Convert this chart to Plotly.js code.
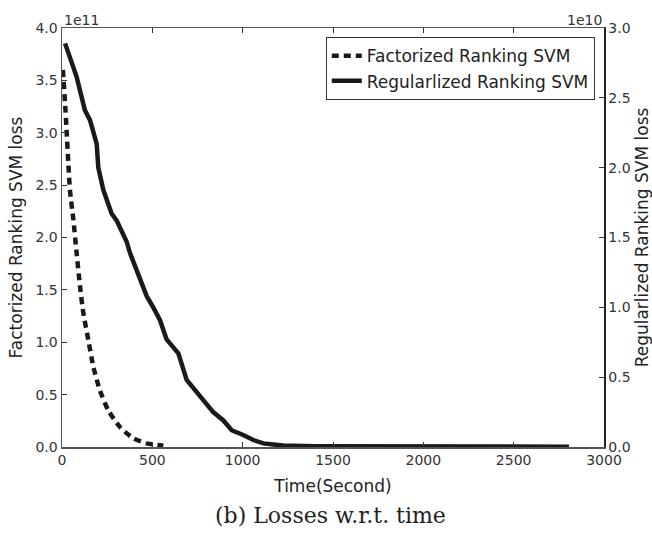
<!DOCTYPE html>
<html>
<head>
<meta charset="utf-8">
<script src="https://cdn.plot.ly/plotly-3.0.1.min.js"></script>
<style>html,body{margin:0;padding:0;background:#fff;}#chart{width:652px;height:533px;}</style>
</head>
<body>
<div id="chart"></div>
<script>
// Factorized Ranking SVM loss (units of 1e11), left axis
const timeFac = [5, 17, 26, 35, 44, 63, 81, 100, 118, 146, 173, 210, 256, 321, 395, 469, 561];
const lossFac = [3.60, 3.28, 3.00, 2.71, 2.45, 2.17, 1.85, 1.53, 1.28, 1.02, 0.77, 0.54, 0.35, 0.19, 0.083, 0.035, 0.012];
// Regularlized Ranking SVM loss (units of 1e10), right axis
const timeReg = [17, 45, 81, 127, 155, 192, 201, 229, 275, 303, 358, 376, 413, 469, 505, 542, 579, 644, 690, 727, 782, 837, 893, 939, 1003, 1059, 1114, 1225, 1400, 1800, 2200, 2806];
const lossReg = [2.89, 2.78, 2.65, 2.41, 2.34, 2.17, 2.00, 1.84, 1.67, 1.62, 1.47, 1.39, 1.27, 1.08, 1.00, 0.91, 0.77, 0.67, 0.48, 0.42, 0.34, 0.25, 0.19, 0.12, 0.086, 0.05, 0.026, 0.01, 0.005, 0.003, 0.002, 0.002];
const leftTicks = [0, 0.5, 1.0, 1.5, 2.0, 2.5, 3.0, 3.5, 4.0];
const rightTicks = [0, 0.5, 1.0, 1.5, 2.0, 2.5, 3.0];
const xTicks = [0, 500, 1000, 1500, 2000, 2500, 3000];

const tickFont = {family: 'DejaVu Sans', size: 14, color: '#333'};
const titleFont = {family: 'DejaVu Sans', size: 17, color: '#222'};

const traces = [
  {x: timeFac, y: lossFac, type: 'scatter', mode: 'lines', name: 'Factorized Ranking SVM',
   line: {color: '#1a1a1a', width: 4.5, dash: '7px,5px', shape: 'spline', smoothing: 0.6}, yaxis: 'y'},
  {x: timeReg, y: lossReg, type: 'scatter', mode: 'lines', name: 'Regularlized Ranking SVM',
   line: {color: '#1a1a1a', width: 4.5}, yaxis: 'y2'}
];

const layout = {
  width: 652, height: 533,
  margin: {l: 62, r: 48, t: 28, b: 86},
  paper_bgcolor: '#fff', plot_bgcolor: '#fff',
  showlegend: true,
  legend: {x: 0.983, xanchor: 'right', y: 0.978, yanchor: 'top',
           bordercolor: '#333', borderwidth: 1, bgcolor: '#fff', traceorder: 'normal',
           font: {family: 'DejaVu Sans', size: 17, color: '#222'}},
  xaxis: {range: [0, 3000], tickvals: xTicks, ticktext: xTicks.map(String),
          ticks: 'inside', ticklen: 5, tickcolor: '#333', showline: true, linecolor: '#555', linewidth: 1.5,
          mirror: 'ticks', showgrid: false, zeroline: false, tickfont: tickFont,
          title: {text: 'Time(Second)', font: titleFont, standoff: 13}},
  yaxis: {range: [0, 4.0], tickvals: leftTicks, ticktext: leftTicks.map(v => v.toFixed(1)),
          ticks: 'inside', ticklen: 5, tickcolor: '#333', showline: true, linecolor: '#555', linewidth: 1.5,
          showgrid: false, zeroline: false, tickfont: tickFont,
          title: {text: 'Factorized Ranking SVM loss', font: titleFont, standoff: 8}},
  yaxis2: {range: [0, 3.0], tickvals: rightTicks, ticktext: rightTicks.map(v => v.toFixed(1)),
           overlaying: 'y', side: 'right', anchor: 'x',
           ticks: 'inside', ticklen: 5, tickcolor: '#333', showline: true, linecolor: '#222', linewidth: 1.5,
           showgrid: false, zeroline: false, tickfont: tickFont,
           title: {text: 'Regularlized Ranking SVM loss', font: titleFont, standoff: 6}},
  annotations: [
    {text: '1e11', xref: 'paper', yref: 'paper', x: 0, y: 1, xanchor: 'left', yanchor: 'bottom',
     showarrow: false, font: tickFont, yshift: -2},
    {text: '1e10', xref: 'paper', yref: 'paper', x: 1, y: 1, xanchor: 'right', yanchor: 'bottom',
     showarrow: false, font: tickFont, yshift: -2},
    {text: '(b) Losses w.r.t. time', xref: 'paper', yref: 'paper', x: 0.495, y: 0, xanchor: 'center', yanchor: 'middle',
     showarrow: false, font: {family: 'DejaVu Serif', size: 22, color: '#222'}, yshift: -68}
  ]
};

Plotly.newPlot('chart', traces, layout, {displayModeBar: false, staticPlot: true});
</script>
</body>
</html>
